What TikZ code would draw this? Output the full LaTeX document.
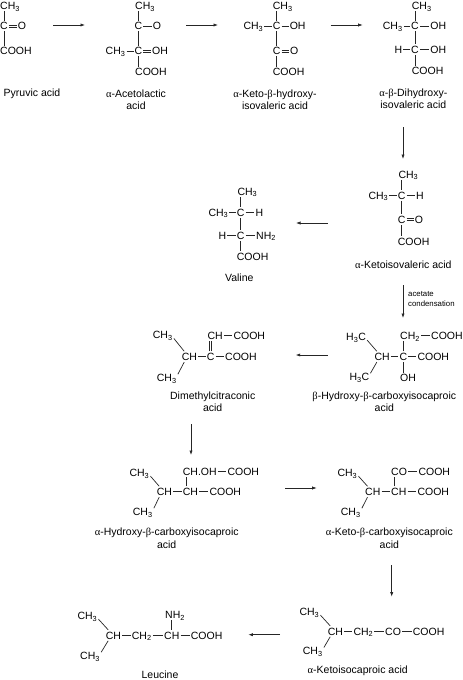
\documentclass[tikz,border=0pt]{standalone}
\usepackage{fontspec}
\setmainfont{Liberation Sans}
\newfontfamily\greekch{Liberation Serif}
\newcommand{\al}{{\greekch α}}
\newcommand{\be}{{\greekch β}}
\newcommand{\sbs}[1]{\textsubscript{#1}}
\usetikzlibrary{arrows.meta}

\begin{document}
\begin{tikzpicture}[
    x=1pt, y=-1pt,
    every node/.style={text=black},
    atom/.style={inner xsep=1pt, inner ysep=1.5pt, text height=7.5pt, text depth=0pt,
                 font=\fontsize{10.5}{12.5}\selectfont},
    grp/.style={atom, anchor=west, xshift=-1pt},
    lbl/.style={align=center, inner sep=0pt, font=\fontsize{10.5}{12.5}\selectfont},
    note/.style={align=left, anchor=west, inner sep=0pt, font=\fontsize{7.8}{9.4}\selectfont},
    bond/.style={draw=black!85, line width=0.7pt},
    flow/.style={-{Latex[length=4.5pt,width=3.2pt]}, draw=black!85, line width=0.7pt}
]
\useasboundingbox (0,0) rectangle (463,680);

% Pyruvic acid
\node[grp] (PAm) at (0,6) {CH\sbs{3}};
\node[atom] (PAc) at (4,26) {C};
\node[atom] (PAo) at (22,26) {O};
\node[grp] (PAa) at (0,51) {COOH};
\node[lbl] (PAl) at (32,94) {Pyruvic acid};
\draw[bond] (PAc) -- (PAc |- PAm.south);
\draw[bond] ([yshift=1pt]PAc.east) -- ([yshift=1pt]PAo.west);
\draw[bond] ([yshift=-1pt]PAc.east) -- ([yshift=-1pt]PAo.west);
\draw[bond] (PAc) -- (PAc |- PAa.north);

% Acetolactic acid
\node[grp] (ALm) at (135,6) {CH\sbs{3}};
\node[atom] (ALc) at (138.5,26) {C};
\node[atom] (ALo) at (157,26) {O};
\node[grp] (ALn) at (105.5,51) {CH\sbs{3}};
\node[atom] (ALd) at (138.5,51) {C};
\node[atom] (ALh) at (160,51) {OH};
\node[grp] (ALa) at (135,72) {COOH};
\node[lbl] (ALl) at (136,99.5) {\al-Acetolactic\\acid};
\draw[bond] (ALc) -- (ALc |- ALm.south);
\draw[bond] (ALc) -- (ALo);
\draw[bond] (ALc) -- (ALd);
\draw[bond] (ALn) -- (ALd);
\draw[bond] ([yshift=1pt]ALd.east) -- ([yshift=1pt]ALh.west);
\draw[bond] ([yshift=-1pt]ALd.east) -- ([yshift=-1pt]ALh.west);
\draw[bond] (ALd) -- (ALd |- ALa.north);

% Keto-hydroxy-isovaleric acid
\node[grp] (KHm) at (272.7,6) {CH\sbs{3}};
\node[atom] (KHc) at (276.7,26) {C};
\node[grp] (KHn) at (243.3,26) {CH\sbs{3}};
\node[atom] (KHh) at (297.7,26) {OH};
\node[atom] (KHd) at (276.7,51) {C};
\node[atom] (KHo) at (294.3,51) {O};
\node[grp] (KHa) at (272.7,72) {COOH};
\node[lbl] (KHl) at (275,99.5) {\al-Keto-\be-hydroxy-\\isovaleric acid};
\draw[bond] (KHc) -- (KHc |- KHm.south);
\draw[bond] (KHn) -- (KHc);
\draw[bond] (KHc) -- (KHh);
\draw[bond] (KHc) -- (KHd);
\draw[bond] ([yshift=1pt]KHd.east) -- ([yshift=1pt]KHo.west);
\draw[bond] ([yshift=-1pt]KHd.east) -- ([yshift=-1pt]KHo.west);
\draw[bond] (KHd) -- (KHd |- KHa.north);

% Dihydroxy-isovaleric acid
\node[grp] (DHm) at (411.7,6) {CH\sbs{3}};
\node[atom] (DHc) at (415,26) {C};
\node[grp] (DHn) at (382.7,26) {CH\sbs{3}};
\node[atom] (DHh) at (438.3,26) {OH};
\node[atom] (DHi) at (398.3,49.5) {H};
\node[atom] (DHd) at (415,49.5) {C};
\node[atom] (DHo) at (438.3,49.5) {OH};
\node[grp] (DHa) at (411.7,71) {COOH};
\node[lbl] (DHl) at (413.3,98.5) {\al-\be-Dihydroxy-\\isovaleric acid};
\draw[bond] (DHc) -- (DHc |- DHm.south);
\draw[bond] (DHn) -- (DHc);
\draw[bond] (DHc) -- (DHh);
\draw[bond] (DHc) -- (DHd);
\draw[bond] (DHi) -- (DHd);
\draw[bond] (DHd) -- (DHo);
\draw[bond] (DHd) -- (DHd |- DHa.north);

% Ketoisovaleric acid
\node[grp] (KVm) at (398.3,174.3) {CH\sbs{3}};
\node[atom] (KVc) at (401.7,195.3) {C};
\node[grp] (KVn) at (368.3,195.3) {CH\sbs{3}};
\node[atom] (KVh) at (420,195.3) {H};
\node[atom] (KVd) at (401.7,219.7) {C};
\node[atom] (KVo) at (419,219.7) {O};
\node[grp] (KVa) at (397.7,241.3) {COOH};
\node[lbl] (KVl) at (403.3,264.7) {\al-Ketoisovaleric acid};
\draw[bond] (KVc) -- (KVc |- KVm.south);
\draw[bond] (KVn) -- (KVc);
\draw[bond] (KVc) -- (KVh);
\draw[bond] (KVc) -- (KVd);
\draw[bond] ([yshift=1pt]KVd.east) -- ([yshift=1pt]KVo.west);
\draw[bond] ([yshift=-1pt]KVd.east) -- ([yshift=-1pt]KVo.west);
\draw[bond] (KVd) -- (KVd |- KVa.north);

% Valine
\node[grp] (VAm) at (237.3,191.3) {CH\sbs{3}};
\node[atom] (VAc) at (240.7,212.3) {C};
\node[grp] (VAn) at (208.3,212.3) {CH\sbs{3}};
\node[atom] (VAh) at (259.3,212.3) {H};
\node[atom] (VAi) at (222.3,235.3) {H};
\node[atom] (VAd) at (240.7,235.3) {C};
\node[grp] (VAo) at (256,235.3) {NH\sbs{2}};
\node[grp] (VAa) at (236.7,256.7) {COOH};
\node[lbl] (VAl) at (239.3,277.3) {Valine};
\draw[bond] (VAc) -- (VAc |- VAm.south);
\draw[bond] (VAn) -- (VAc);
\draw[bond] (VAc) -- (VAh);
\draw[bond] (VAc) -- (VAd);
\draw[bond] (VAi) -- (VAd);
\draw[bond] (VAd) -- (VAo);
\draw[bond] (VAd) -- (VAd |- VAa.north);

% Hydroxy-carboxyisocaproic acid (beta)
\node[grp] (BHu) at (346,336.7) {H\sbs{3}C};
\node[grp] (BHv) at (349.3,376.7) {H\sbs{3}C};
\node[grp] (BHc) at (374.3,356.7) {CH};
\node[atom] (BHd) at (403.3,356.7) {C};
\node[grp] (BHa) at (417.3,356.7) {COOH};
\node[grp] (BHt) at (400,335.7) {CH\sbs{2}};
\node[grp] (BHb) at (431,335.7) {COOH};
\node[grp] (BHo) at (400,378) {OH};
\node[lbl] (BHl) at (384.3,401.5) {\be-Hydroxy-\be-carboxyisocaproic\\acid};
\draw[bond] ([yshift=2pt]BHu.south east) -- ([xshift=3.5pt]BHc.north west);
\draw[bond] ([yshift=-2pt]BHv.north east) -- ([xshift=3.5pt]BHc.south west);
\draw[bond] (BHc) -- (BHd);
\draw[bond] (BHd) -- (BHa);
\draw[bond] (BHt) -- (BHb);
\draw[bond] (BHd) -- (BHd |- BHt.south);
\draw[bond] (BHd) -- (BHd |- BHo.north);

% Dimethylcitraconic acid
\node[grp] (DCu) at (152.7,335) {CH\sbs{3}};
\node[grp] (DCv) at (156.7,377.7) {CH\sbs{3}};
\node[grp] (DCc) at (181.7,356.7) {CH};
\node[atom] (DCd) at (210.7,356.7) {C};
\node[grp] (DCa) at (225,356.7) {COOH};
\node[grp] (DCt) at (207.3,335.7) {CH};
\node[grp] (DCb) at (233.3,335.7) {COOH};
\node[lbl] (DCl) at (212.7,401.5) {Dimethylcitraconic\\acid};
\draw[bond] ([yshift=2pt]DCu.south east) -- ([xshift=3.5pt]DCc.north west);
\draw[bond] ([yshift=-2pt]DCv.north east) -- ([xshift=3.5pt]DCc.south west);
\draw[bond] (DCc) -- (DCd);
\draw[bond] (DCd) -- (DCa);
\draw[bond] (DCt) -- (DCb);
\draw[bond] ([xshift=-1pt]DCd.north) -- ([xshift=-1pt]DCd.north |- DCt.south);
\draw[bond] ([xshift=1pt]DCd.north) -- ([xshift=1pt]DCd.north |- DCt.south);

% Hydroxy-carboxyisocaproic acid (alpha)
\node[grp] (AHu) at (129.3,472.7) {CH\sbs{3}};
\node[grp] (AHv) at (132.7,511.7) {CH\sbs{3}};
\node[grp] (AHc) at (156.7,491.7) {CH};
\node[grp] (AHd) at (182.7,491.7) {CH};
\node[grp] (AHa) at (209.3,491.7) {COOH};
\node[grp] (AHt) at (182.7,471.7) {CH.OH};
\node[grp] (AHb) at (227.3,471.7) {COOH};
\node[lbl] (AHl) at (166.7,538) {\al-Hydroxy-\be-carboxyisocaproic\\acid};
\draw[bond] ([yshift=2pt]AHu.south east) -- ([xshift=3.5pt]AHc.north west);
\draw[bond] ([yshift=-2pt]AHv.north east) -- ([xshift=3.5pt]AHc.south west);
\draw[bond] (AHc) -- (AHd);
\draw[bond] (AHd) -- (AHa);
\draw[bond] (AHt) -- (AHb);
\draw[bond] ([xshift=4.8pt]AHd.north west) -- ([xshift=4.8pt]AHt.south west);

% Keto-carboxyisocaproic acid
\node[grp] (KCu) at (337.3,472.7) {CH\sbs{3}};
\node[grp] (KCv) at (340.7,511.7) {CH\sbs{3}};
\node[grp] (KCc) at (365,491.7) {CH};
\node[grp] (KCd) at (391,491.7) {CH};
\node[grp] (KCa) at (417.3,491.7) {COOH};
\node[grp] (KCt) at (391,471.7) {CO};
\node[grp] (KCb) at (418.3,471.7) {COOH};
\node[lbl] (KCl) at (389.3,538) {\al-Keto-\be-carboxyisocaproic\\acid};
\draw[bond] ([yshift=2pt]KCu.south east) -- ([xshift=3.5pt]KCc.north west);
\draw[bond] ([yshift=-2pt]KCv.north east) -- ([xshift=3.5pt]KCc.south west);
\draw[bond] (KCc) -- (KCd);
\draw[bond] (KCd) -- (KCa);
\draw[bond] (KCt) -- (KCb);
\draw[bond] ([xshift=4.8pt]KCd.north west) -- ([xshift=4.8pt]KCt.south west);

% Ketoisocaproic acid
\node[grp] (KIu) at (299.3,611.7) {CH\sbs{3}};
\node[grp] (KIv) at (302.7,651) {CH\sbs{3}};
\node[grp] (KIc) at (327.7,631.3) {CH};
\node[grp] (KId) at (353.3,631.3) {CH\sbs{2}};
\node[grp] (KIe) at (385,631.3) {CO};
\node[grp] (KIa) at (412.7,631.3) {COOH};
\node[lbl] (KIl) at (357.7,670.7) {\al-Ketoisocaproic acid};
\draw[bond] ([yshift=2pt]KIu.south east) -- ([xshift=3.5pt]KIc.north west);
\draw[bond] ([yshift=-2pt]KIv.north east) -- ([xshift=3.5pt]KIc.south west);
\draw[bond] (KIc) -- (KId);
\draw[bond] (KId) -- (KIe);
\draw[bond] (KIe) -- (KIa);

% Leucine
\node[grp] (LEu) at (77.3,615.7) {CH\sbs{3}};
\node[grp] (LEv) at (80,655.7) {CH\sbs{3}};
\node[grp] (LEc) at (105.7,635.3) {CH};
\node[grp] (LEd) at (131.7,635.3) {CH\sbs{2}};
\node[grp] (LEe) at (164,635.3) {CH};
\node[grp] (LEa) at (190.7,635.3) {COOH};
\node[grp] (LEn) at (165,614.7) {NH\sbs{2}};
\node[lbl] (LEl) at (160,674.3) {Leucine};
\draw[bond] ([yshift=2pt]LEu.south east) -- ([xshift=3.5pt]LEc.north west);
\draw[bond] ([yshift=-2pt]LEv.north east) -- ([xshift=3.5pt]LEc.south west);
\draw[bond] (LEc) -- (LEd);
\draw[bond] (LEd) -- (LEe);
\draw[bond] (LEe) -- (LEa);
\draw[bond] (LEe.north) -- (LEe.north |- LEn.south);

% Free ends of the reaction arrows
\coordinate (R1a) at (53,25);      \coordinate (R1b) at (85,25);
\coordinate (R2a) at (186,25);     \coordinate (R2b) at (218,25);
\coordinate (R3a) at (330.7,25);   \coordinate (R3b) at (362.7,25);
\coordinate (R4a) at (403,127);    \coordinate (R4b) at (403,159);
\coordinate (R5a) at (327.7,223);  \coordinate (R5b) at (296,223);
\coordinate (R6a) at (403,285);    \coordinate (R6b) at (403,318);
\coordinate (R7a) at (327.7,355);  \coordinate (R7b) at (295.7,355);
\coordinate (R8a) at (191,424);    \coordinate (R8b) at (191,455);
\coordinate (R9a) at (285,488);    \coordinate (R9b) at (316.7,488);
\coordinate (R10a) at (391.7,565); \coordinate (R10b) at (391.7,596.7);
\coordinate (R11a) at (280,634.7); \coordinate (R11b) at (248.3,634.7);

% Reaction arrows
\foreach \i in {1,...,11}
    \draw[flow] (R\i a) -- (R\i b);

% Arrow note
\node[note] (R6n) at (408,299) {acetate\\condensation};

\end{tikzpicture}
\end{document}
